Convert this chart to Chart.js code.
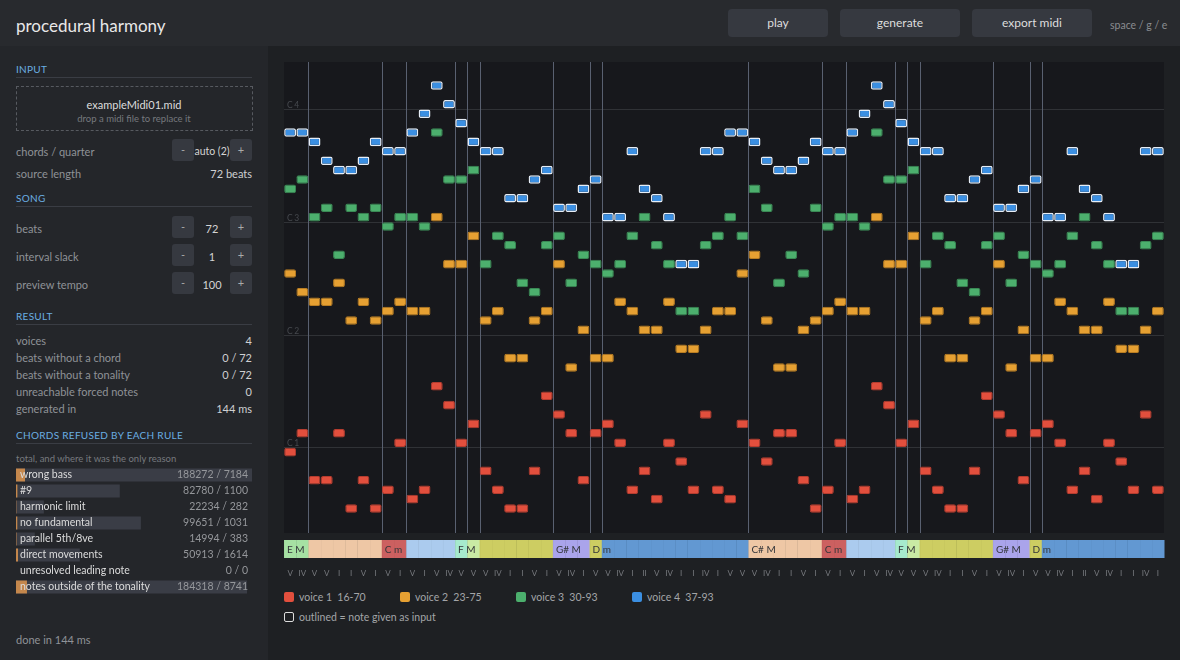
<!DOCTYPE html>
<html>
<head>
<meta charset="utf-8">
<title>procedural harmony</title>
<script src="https://cdn.jsdelivr.net/npm/chart.js@4.4.1/dist/chart.umd.min.js"></script>
<style>
  body { margin: 0; width: 1180px; height: 660px; background: #1e2023; font-family: Lato, "Noto Sans", sans-serif; overflow: hidden; position: relative; color: #ccc; }
  #top { position: absolute; left: 0; top: 0; width: 1180px; height: 46px; background: #282a2e; }
  #title { position: absolute; left: 16px; top: 25px; transform: translateY(-50%); font-size: 17px; color: #e8e8e8; }
  .btn { position: absolute; top: 9px; height: 28px; line-height: 28px; background: #363940; border-radius: 4px; text-align: center; font-size: 12px; color: #ddd; }
  #keys { position: absolute; left: 1110px; top: 25px; transform: translateY(-50%); font-size: 10.5px; color: #8a8c90; }
  #side { position: absolute; left: 0; top: 46px; width: 268px; height: 614px; background: #24262a; }
  .t { position: absolute; transform: translateY(-50%); white-space: nowrap; }
  .head { left: 16px; font-size: 10px; color: #6aaee2; letter-spacing: 0.3px; }
  .rule { position: absolute; left: 16px; width: 236px; height: 1px; background: #3a3d44; }
  .lbl { left: 16px; font-size: 11px; color: #8f9297; }
  .val { left: 252px; transform: translate(-100%, -50%); font-size: 11px; color: #cfd0d2; }
  .sb { position: absolute; width: 22px; height: 22px; line-height: 22px; background: #363940; border-radius: 3px; text-align: center; font-size: 11px; color: #aaa; }
  .num { font-size: 11px; color: #d4d4d4; text-align: center; width: 36px; left: 194px; }
  #drop { position: absolute; left: 16px; top: 86px; width: 235px; height: 43px; border: 1px dashed #575a60; }
  #roll { position: absolute; left: 270px; top: 55px; }
  #rules { position: absolute; left: 16px; top: 467px; }
  .sw { position: absolute; width: 10px; height: 10px; border-radius: 2px; top: 592px; }
  .lg { font-size: 10.5px; color: #a3a5a8; top: 597px; }
</style>
</head>
<body>
<div id="top">
  <div id="title">procedural harmony</div>
  <div class="btn" style="left:728px;width:100px">play</div>
  <div class="btn" style="left:840px;width:120px">generate</div>
  <div class="btn" style="left:972px;width:120px">export midi</div>
  <div id="keys">space / g / e</div>
</div>

<div id="side"></div>
<div class="t head" style="top:69px">INPUT</div>
<div class="rule" style="top:77px"></div>
<div id="drop"></div>
<div class="t" style="left:134px;top:104px;transform:translate(-50%,-50%);font-size:11px;color:#ddd">exampleMidi01.mid</div>
<div class="t" style="left:134px;top:118px;transform:translate(-50%,-50%);font-size:9.5px;color:#76797e">drop a midi file to replace it</div>

<div class="t lbl" style="top:151px">chords / quarter</div>
<div class="sb" style="left:172px;top:139px">-</div>
<div class="t num" style="top:151px;font-size:10.5px">auto (2)</div>
<div class="sb" style="left:230px;top:139px">+</div>
<div class="t lbl" style="top:173px">source length</div>
<div class="t val" style="top:173px">72 beats</div>

<div class="t head" style="top:198px">SONG</div>
<div class="rule" style="top:206px"></div>
<div class="t lbl" style="top:228px">beats</div>
<div class="sb" style="left:172px;top:216px">-</div>
<div class="t num" style="top:228px">72</div>
<div class="sb" style="left:230px;top:216px">+</div>
<div class="t lbl" style="top:256px">interval slack</div>
<div class="sb" style="left:172px;top:244px">-</div>
<div class="t num" style="top:256px">1</div>
<div class="sb" style="left:230px;top:244px">+</div>
<div class="t lbl" style="top:284px">preview tempo</div>
<div class="sb" style="left:172px;top:272px">-</div>
<div class="t num" style="top:284px">100</div>
<div class="sb" style="left:230px;top:272px">+</div>

<div class="t head" style="top:316px">RESULT</div>
<div class="rule" style="top:324px"></div>
<div class="t lbl" style="top:340px">voices</div>
<div class="t val" style="top:340px">4</div>
<div class="t lbl" style="top:357px">beats without a chord</div>
<div class="t val" style="top:357px">0 / 72</div>
<div class="t lbl" style="top:374px">beats without a tonality</div>
<div class="t val" style="top:374px">0 / 72</div>
<div class="t lbl" style="top:391px">unreachable forced notes</div>
<div class="t val" style="top:391px">0</div>
<div class="t lbl" style="top:408px">generated in</div>
<div class="t val" style="top:408px">144 ms</div>

<div class="t head" style="top:435px">CHORDS REFUSED BY EACH RULE</div>
<div class="rule" style="top:443px"></div>
<div class="t lbl" style="top:458px;font-size:9.5px;color:#76797e">total, and where it was the only reason</div>
<canvas id="rules" width="236" height="128"></canvas>
<div class="t lbl" style="top:639px">done in 144 ms</div>

<canvas id="roll" width="900" height="530"></canvas>

<div class="sw" style="left:284px;background:#e24f3d"></div>
<div class="t lg" style="left:299px">voice 1&nbsp; 16-70</div>
<div class="sw" style="left:400px;background:#e6a032"></div>
<div class="t lg" style="left:415px">voice 2&nbsp; 23-75</div>
<div class="sw" style="left:516px;background:#4caf6d"></div>
<div class="t lg" style="left:531px">voice 3&nbsp; 30-93</div>
<div class="sw" style="left:632px;background:#3b8fe2"></div>
<div class="t lg" style="left:647px">voice 4&nbsp; 37-93</div>
<div class="sw" style="left:284px;top:612px;width:8px;height:8px;border:1.5px solid #ddd"></div>
<div class="t lg" style="left:299px;top:617px">outlined = note given as input</div>

<script>
// pitches per beat (midi numbers, C4 = 60)
const voice1 = [23,25,20,20,25,17,20,17,19,24,18,19,30,28,24,26,21,19,17,17,21,29,27,25,20,25,26,24,19,21,18,24,22,19,27,19,
                18,26,24,22,25,25,20,17,19,24,18,19,30,28,24,26,21,19,17,17,21,29,27,25,20,25,26,24,19,21,18,24,22,19,27,19];
const voice2 = [42,40,39,39,41,37,39,37,38,39,38,38,48,43,43,46,37,38,33,33,37,38,43,32,36,33,33,39,38,36,36,39,34,34,36,38,
                38,42,44,37,32,32,36,37,38,39,38,38,48,43,43,46,37,38,33,33,37,38,43,32,36,33,33,39,38,36,36,39,34,34,36,38];
const voice3 = [51,52,48,49,44,49,48,49,47,48,48,47,57,52,52,53,43,46,45,41,40,45,46,41,44,43,42,43,46,48,45,43,38,38,45,46,
                48,46,51,49,41,44,42,49,47,48,48,47,57,52,52,53,43,46,45,41,40,45,46,41,44,43,42,43,46,48,45,43,38,38,45,46];
const voice4 = [57,57,56,54,53,53,54,56,55,55,57,59,62,60,58,56,55,55,50,50,52,53,49,49,51,52,48,48,55,51,50,48,43,43,55,55,
                57,57,56,54,53,53,54,56,55,55,57,59,62,60,58,56,55,55,50,50,52,53,49,49,51,52,48,48,55,51,50,48,43,43,55,55];
const voiceNames = ['voice 1', 'voice 2', 'voice 3', 'voice 4'];
const givenAsInput = [false, false, false, true];

// degree of each beat's chord
const numerals = ['V','IV','V','V','I','I','V','I','V','I','V','I','V','IV','V','V','V','IV','I','I','V','I','V','IV','I','V','V','IV','I','II','V','IV','I','I','IV','I',
                  'V','V','V','IV','I','I','V','I','V','I','V','I','V','IV','V','V','V','IV','I','I','V','I','V','IV','I','V','V','IV','I','II','V','IV','I','I','IV','I'];
// tonality of each beat
const tonality = ['E M','E M','C# M','C# M','C# M','C# M','C# M','C# M','C m','C m','G M','G M','G M','G M','F M','D# M',
                  'D m','D m','D m','D m','D m','D m','G# M','G# M','G# M','D m','G m','G m','G m','G m','G m','G m','G m','G m','G m','G m',
                  'G m','G m','C# M','C# M','C# M','C# M','C# M','C# M','C m','C m','G M','G M','G M','G M','F M','D# M',
                  'D m','D m','D m','D m','D m','D m','G# M','G# M','G# M','D m','G m','G m','G m','G m','G m','G m','G m','G m','G m','G m'];
const tonalityLabels = [[0,'E M'],[8,'C m'],[14,'F M'],[22,'G# M'],[25,'D m'],[38,'C# M'],[44,'C m'],[50,'F M'],[58,'G# M'],[61,'D m']];
const octaveLines = [24, 36, 48, 60];

const ruleNames = ['wrong bass','#9','harmonic limit','no fundamental','parallel 5th/8ve','direct movements','unresolved leading note','notes outside of the tonality'];
const ruleTotals = [188272, 82780, 22234, 99651, 14994, 50913, 0, 184318];
const ruleOnly = [7184, 1100, 282, 1031, 383, 1614, 0, 8741];

const voiceColors = ['#e24f3d', '#e6a032', '#4caf6d', '#3b8fe2'];
const voiceEdges = ['#b53c2f', '#b97d22', '#3a8a55', '#2f72b8'];
const keyColors = {
  'E M': '#a6e1a3', 'C# M': '#eec7a5', 'C m': '#cc6060', 'G M': '#abcbee', 'F M': '#a6eacd',
  'D# M': '#c9eaa4', 'D m': '#cdcd62', 'G# M': '#aaa4eb', 'G m': '#6298d2'
};

const rollDecor = {
  id: 'rollDecor',
  beforeDatasetsDraw(chart) {
    const {ctx, chartArea: a, scales: {x, y}} = chart;
    const w = a.width / numerals.length;
    ctx.save();
    ctx.fillStyle = '#17181c';
    ctx.fillRect(a.left, a.top, a.width, a.height + 1);
    ctx.strokeStyle = '#303236';
    ctx.lineWidth = 1;
    ctx.font = '8.5px Lato, sans-serif';
    ctx.letterSpacing = '1.5px';
    ctx.fillStyle = '#46494e';
    ctx.textBaseline = 'alphabetic';
    octaveLines.forEach(v => {
      const py = Math.round(y.getPixelForValue(v)) + 0.5;
      ctx.beginPath(); ctx.moveTo(a.left, py); ctx.lineTo(a.right, py); ctx.stroke();
      ctx.fillText('C' + (v / 12 - 1), a.left + 3, py - 2);
    });
    ctx.strokeStyle = '#596070';
    tonality.forEach((k, i) => {
      if (i === 0 || k === tonality[i - 1]) return;
      const px = Math.round(x.getPixelForValue(i) - w / 2) + 0.5;
      ctx.beginPath(); ctx.moveTo(px, a.top); ctx.lineTo(px, a.bottom + 1); ctx.stroke();
    });
    ctx.restore();
  },
  afterDraw(chart) {
    const {ctx, chartArea: a, scales: {x}} = chart;
    const w = a.width / numerals.length;
    const top = a.bottom + 8;
    ctx.save();
    tonality.forEach((k, i) => {
      const px = x.getPixelForValue(i) - w / 2;
      ctx.fillStyle = keyColors[k];
      ctx.fillRect(px, top, w + 0.5, 18);
      ctx.fillStyle = 'rgba(0,0,0,0.025)';
      ctx.fillRect(Math.round(px), top, 1, 18);
    });
    ctx.font = '10px Lato, sans-serif';
    ctx.fillStyle = '#34363a';
    ctx.textBaseline = 'middle';
    tonalityLabels.forEach(([b, txt]) => {
      ctx.fillText(txt, x.getPixelForValue(b) - w / 2 + 3, top + 9.5);
    });
    ctx.font = '8px Lato, sans-serif';
    ctx.fillStyle = '#77797e';
    ctx.textAlign = 'center';
    numerals.forEach((n, i) => ctx.fillText(n, x.getPixelForValue(i), a.bottom + 41));
    ctx.restore();
  }
};

new Chart(document.getElementById('roll'), {
  type: 'bar',
  data: {
    labels: numerals.map((_, i) => i),
    datasets: [voice1, voice2, voice3, voice4].map((v, i) => ({
      label: voiceNames[i],
      data: v.map(p => [p + 0.04, p + 0.96]),
      backgroundColor: voiceColors[i],
      borderColor: givenAsInput[i] ? '#e6edf6' : voiceEdges[i],
      borderWidth: givenAsInput[i] ? 1.5 : 1,
      borderRadius: 2,
      borderSkipped: false,
      grouped: false,
      barPercentage: 1,
      categoryPercentage: 0.97
    }))
  },
  options: {
    responsive: false,
    animation: false,
    layout: { padding: { left: 14, right: 6, top: 7, bottom: 53 } },
    plugins: { legend: { display: false }, tooltip: { enabled: false } },
    scales: {
      x: { display: false, offset: true },
      y: { display: false, min: 15, max: 65 }
    }
  },
  plugins: [rollDecor]
});

const ruleText = {
  id: 'ruleText',
  afterDatasetsDraw(chart) {
    const {ctx, chartArea: a, scales: {y}} = chart;
    ctx.save();
    ctx.textBaseline = 'middle';
    ruleNames.forEach((name, i) => {
      const py = y.getPixelForValue(i);
      ctx.font = '10.5px Lato, sans-serif';
      ctx.fillStyle = '#dcdcdc';
      ctx.textAlign = 'left';
      ctx.fillText(name, a.left + 4, py);
      ctx.fillStyle = '#95979b';
      ctx.textAlign = 'right';
      ctx.fillText(ruleTotals[i] + ' / ' + ruleOnly[i], a.right - 4, py);
    });
    ctx.restore();
  }
};

new Chart(document.getElementById('rules'), {
  type: 'bar',
  data: {
    labels: ruleNames,
    datasets: [
      { label: 'only reason', data: ruleOnly, backgroundColor: '#c4874c', grouped: false, barPercentage: 1, categoryPercentage: 0.8125 },
      { label: 'total', data: ruleTotals, backgroundColor: '#3a3d46', grouped: false, barPercentage: 1, categoryPercentage: 0.8125 }
    ]
  },
  options: {
    indexAxis: 'y',
    responsive: false,
    animation: false,
    layout: { padding: 0 },
    plugins: { legend: { display: false }, tooltip: { enabled: false } },
    scales: {
      x: { display: false, min: 0, max: Math.max(...ruleTotals) },
      y: { display: false }
    }
  },
  plugins: [ruleText]
});
</script>
</body>
</html>
